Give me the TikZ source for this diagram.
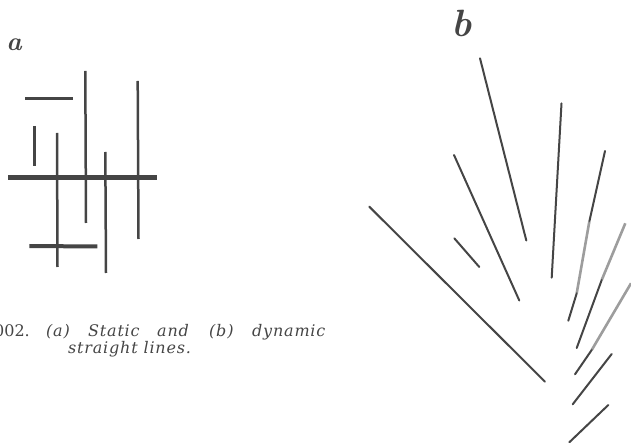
\documentclass[tikz,border=0pt]{standalone}
\usepackage{fontspec}
\newfontfamily\captfont[LetterSpace=5]{DejaVu Serif}
\newfontfamily\numfont{DejaVu Serif}
\definecolor{ink}{HTML}{454545}
\definecolor{blur}{HTML}{8C8C8C}
\begin{document}
\begin{tikzpicture}[x=1pt,y=-1pt,
  stroke/.style={draw=ink,line width=2.5pt},
  heavy/.style={draw=ink,line width=4.5pt},
  ray/.style={draw=ink,line width=2pt,line cap=round},
  fuzzy/.style={draw=blur,line width=2.6pt,opacity=0.85},
  capt/.style={anchor=base west,inner sep=0pt,font=\captfont\fontsize{16}{18}\selectfont\itshape,text=ink},
  lbl/.style={inner sep=0pt,text=ink}]
\useasboundingbox (0,0) rectangle (631,443);
% ---------- panel a ----------
\node[lbl,font=\fontsize{26}{28}\selectfont\bfseries\itshape] (la) at (14,45) {a};
\draw[stroke,line width=3pt] (25,99) -- (73,99);
\draw[stroke,line width=3pt] (34.3,126) -- (34.3,166);
\draw[stroke] (57,133) -- (57.5,267);
\draw[stroke] (85.3,71) -- (86,223);
\draw[stroke] (105.3,152) -- (106,273);
\draw[stroke] (137.7,81) -- (138.5,239);
\draw[heavy] (8.3,177.3) -- (157.3,177.3);
\draw[stroke,line width=4pt] (29.3,246) -- (97.3,246.5);
% caption
\node[capt,font=\numfont\fontsize{16}{18}\selectfont] (c0) at (-6,336) {002.};
\node[capt] (c1) at (46,336) {(a)};
\node[capt] (c2) at (88,336) {Static};
\node[capt] (c3) at (157,336) {and};
\node[capt] (c4) at (209,336) {(b)};
\node[capt] (c5) at (252,336) {dynamic};
\node[capt] (c6) at (68,353) {straight lines.};
% ---------- panel b ----------
\node[lbl,font=\fontsize{38}{40}\selectfont\bfseries\itshape] (lb) at (462,23) {b};
\draw[ray] (480,58.3) -- (526.3,240.5);
\draw[ray] (454,155) -- (519.3,300.5);
\draw[ray] (369.3,206.7) -- (545,381.7);
\draw[ray] (454.3,238.3) -- (479.3,267);
\draw[ray] (561.5,103.3) -- (551.7,277.7);
% line 6 with blurred middle
\draw[ray] (605,151) -- (589.3,221.7);
\draw[fuzzy] (589.3,221.7) -- (576.7,293.3);
\draw[ray] (576.7,293.3) -- (568.3,320.7);
% line 7
\draw[fuzzy] (625.3,223.3) -- (601.7,280);
\draw[ray] (601.7,280) -- (576.7,348);
% line 8
\draw[fuzzy] (631,283.3) -- (591.7,350);
\draw[ray] (591.7,350) -- (575,374.3);
% short lower rays
\draw[ray] (611.7,354) -- (572.7,404.3);
\draw[ray] (608.3,405) -- (569.3,442.3);
\end{tikzpicture}
\end{document}
